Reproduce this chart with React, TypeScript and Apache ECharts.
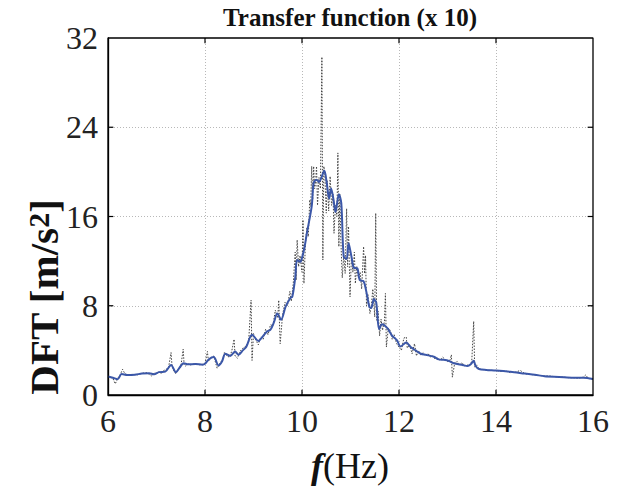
import React, { useEffect, useRef } from "react";
import * as echarts from "echarts";

const xTicks = [6, 8, 10, 12, 14, 16];
const yTicks = [0, 8, 16, 24, 32];

// Smoothed transfer function (blue)
const smoothFreq = [
  6.0, 6.1, 6.2, 6.28, 6.4, 6.55, 6.7, 6.85, 6.95, 7.05, 7.18, 7.3, 7.4, 7.5, 7.56, 7.65, 7.8, 7.95,
  8.0, 8.08, 8.18, 8.28, 8.35, 8.42, 8.52, 8.62, 8.69, 8.78, 8.85, 8.97, 9.1, 9.2, 9.28, 9.35, 9.42,
  9.49, 9.57, 9.66, 9.76, 9.8, 9.86, 9.9, 9.97, 10.0, 10.05, 10.1, 10.2, 10.24, 10.3, 10.35, 10.46,
  10.51, 10.56, 10.6, 10.65, 10.69, 10.76, 10.81, 10.86, 10.92, 10.96, 11.02, 11.07, 11.14, 11.19,
  11.27, 11.32, 11.39, 11.43, 11.48, 11.53, 11.59, 11.65, 11.76, 11.86, 11.96, 12.03, 12.15, 12.24,
  12.34, 12.45, 12.55, 12.72, 12.82, 12.92, 13.03, 13.13, 13.31, 13.41, 13.48, 13.54, 13.58, 13.65,
  13.8, 14.0, 14.3, 14.6, 14.8, 15.0, 15.3, 15.6, 15.8, 16.0,
];
const smoothVals = [
  1.65, 1.55, 1.42, 1.88, 1.8, 1.82, 1.92, 1.95, 1.85, 2.05, 2.1, 2.7, 2.05, 2.6, 2.85, 2.75, 2.78, 2.72,
  2.8, 3.2, 3.4, 2.65, 3.0, 3.7, 3.5, 3.9, 3.6, 4.0, 4.3, 5.4, 4.85, 5.3, 5.7, 5.85, 6.5,
  7.3, 6.75, 7.9, 8.7, 8.8, 10.5, 12.1, 11.95, 12.3, 13.2, 14.5, 16.9, 19.0, 19.3, 19.1, 20.1,
  19.0, 17.6, 18.5, 17.5, 16.4, 18.0, 17.2, 12.4, 12.2, 13.6, 12.4, 11.4, 11.35, 10.3,
  10.2, 9.4, 7.9, 7.8, 8.6, 8.3, 5.9, 6.35, 6.0, 5.3, 4.9, 4.35, 4.7, 4.3,
  4.0, 3.7, 3.6, 3.43, 3.19, 3.15, 3.05, 2.84, 2.69, 2.6, 2.75, 3.07, 2.6, 2.33,
  2.25, 2.2, 2.08, 1.92, 1.82, 1.68, 1.62, 1.55, 1.55, 1.43,
];

// Raw DFT ratio (dotted)
const rawFreq = [
  6.0, 6.05, 6.1, 6.15, 6.2, 6.25, 6.3, 6.35, 6.4, 6.5, 6.6, 6.7, 6.8, 6.9, 6.95, 7.0, 7.05, 7.1,
  7.15, 7.2, 7.25, 7.3, 7.32, 7.35, 7.4, 7.45, 7.5, 7.55, 7.57, 7.6, 7.65, 7.7, 7.8, 7.9, 8.0, 8.05,
  8.07, 8.12, 8.18, 8.25, 8.3, 8.35, 8.4, 8.45, 8.5, 8.55, 8.6, 8.62, 8.67, 8.72, 8.78, 8.85, 8.9,
  8.95, 8.97, 9.0, 9.05, 9.1, 9.15, 9.2, 9.25, 9.3, 9.35, 9.4, 9.45, 9.5, 9.52, 9.55, 9.6, 9.65, 9.7,
  9.75, 9.78, 9.82, 9.86, 9.88, 9.9, 9.93, 9.96, 10.0, 10.02, 10.04, 10.07, 10.1, 10.13, 10.16,
  10.18, 10.2, 10.22, 10.24, 10.26, 10.28, 10.3, 10.32, 10.35, 10.38, 10.41, 10.43, 10.45, 10.47,
  10.5, 10.52, 10.55, 10.58, 10.61, 10.64, 10.66, 10.69, 10.72, 10.74, 10.76, 10.78, 10.8, 10.83,
  10.86, 10.89, 10.92, 10.94, 10.96, 10.99, 11.02, 11.05, 11.08, 11.1, 11.13, 11.16, 11.2, 11.23,
  11.27, 11.29, 11.31, 11.33, 11.36, 11.4, 11.43, 11.46, 11.5, 11.52, 11.54, 11.57, 11.6, 11.63,
  11.66, 11.7, 11.72, 11.74, 11.78, 11.82, 11.86, 11.9, 11.95, 12.0, 12.05, 12.1, 12.15, 12.17,
  12.22, 12.27, 12.32, 12.36, 12.4, 12.45, 12.5, 12.55, 12.6, 12.65, 12.7, 12.75, 12.8, 12.85,
  12.9, 12.95, 13.0, 13.05, 13.08, 13.1, 13.15, 13.2, 13.25, 13.3, 13.35, 13.4, 13.45, 13.5, 13.54,
  13.56, 13.6, 13.65, 13.7, 13.8, 13.9, 14.0, 14.1, 14.2, 14.3, 14.4, 14.5, 14.6, 14.7, 14.8,
  14.9, 15.0, 15.1, 15.2, 15.3, 15.4, 15.5, 15.6, 15.7, 15.8, 15.85, 15.9, 16.0,
];
const rawVals = [
  1.7, 1.6, 1.5, 1.0, 1.5, 1.8, 2.3, 1.9, 1.8, 1.85, 1.8, 1.95, 2.0, 1.7, 2.0, 1.9, 2.1, 1.9,
  2.2, 2.3, 2.5, 3.8, 2.6, 2.2, 1.9, 2.3, 2.5, 4.1, 2.7, 2.6, 2.8, 2.7, 2.8, 2.7, 2.8, 3.9,
  3.0, 3.3, 3.5, 2.4, 2.8, 3.1, 3.8, 3.5, 3.4, 3.9, 5.0, 3.5, 3.3, 3.9, 4.2, 4.4, 4.8,
  8.5, 3.1, 5.5, 4.9, 4.5, 5.2, 5.0, 5.9, 5.4, 6.3, 6.2, 7.6, 6.9, 8.5, 4.6, 7.2, 8.3, 8.0,
  9.3, 8.4, 10.0, 12.8, 10.3, 13.9, 11.5, 12.5, 11.0, 15.7, 10.0, 13.5, 15.0, 14.2, 17.5,
  16.9, 20.5, 17.5, 20.5, 18.5, 19.0, 20.5, 17.0, 19.5, 18.5, 30.3, 12.1, 20.5, 19.9,
  16.3, 19.2, 16.5, 19.6, 17.0, 18.0, 14.5, 17.0, 16.0, 21.7, 13.3, 18.0, 14.0, 10.5,
  12.5, 10.9, 16.7, 11.5, 15.1, 8.8, 12.5, 11.0, 12.8, 10.0, 11.5, 10.5, 11.0, 9.5,
  13.3, 10.9, 12.5, 8.0, 9.0, 7.3, 8.0, 9.5, 7.0, 16.3, 6.7, 7.5, 5.3, 6.8,
  5.8, 6.6, 9.1, 4.3, 6.0, 5.8, 5.0, 5.4, 4.6, 4.3, 4.0, 5.1, 5.2, 4.2,
  4.5, 3.7, 4.6, 3.5, 4.0, 3.6, 3.8, 3.5, 3.7, 3.4, 3.5, 3.2, 3.3, 3.1,
  3.4, 3.2, 3.0, 3.1, 3.6, 1.6, 2.9, 3.0, 2.7, 2.9, 2.6, 2.7, 2.6, 3.0, 6.6,
  2.5, 2.7, 2.3, 2.3, 2.25, 2.2, 2.2, 2.1, 2.15, 2.0, 2.05, 2.2, 1.9, 1.85, 1.8,
  1.75, 1.7, 1.7, 1.65, 1.6, 1.6, 1.55, 1.55, 1.5, 1.6, 1.8, 1.5, 1.4,
];

const SERIF = "Liberation Serif";

export default function App() {
  const ref = useRef<HTMLDivElement>(null);
  useEffect(() => {
    if (!ref.current) return;
    const chart = echarts.init(ref.current, null, { renderer: "svg" });
    const smooth = smoothFreq.map((f, i) => [f, smoothVals[i]]);
    const raw = rawFreq.map((f, i) => [f, rawVals[i]]);
    const gridLine = {
      show: true, showMinLine: false, showMaxLine: false,
      lineStyle: { color: "#b8b8b8", type: [1, 2], width: 1 },
    };
    const xMin = xTicks[0], xMax = xTicks[xTicks.length - 1];
    const yMin = yTicks[0], yMax = yTicks[yTicks.length - 1];
    const xTickLen = (xMax - xMin) * 0.011;
    const yTickLen = (yMax - yMin) * 0.015;

    const blackLine = (data: number[][], width: number) => ({
      type: "line", data, showSymbol: false, silent: true, clip: false, z: 10,
      lineStyle: { color: "#000000", width, type: "solid" }, emphasis: { disabled: true },
    });
    const frameSeries = [
      blackLine([[xMin, yMin], [xMax, yMin], [xMax, yMax], [xMin, yMax], [xMin, yMin]], 1.3),
    ];
    const tickSeries: any[] = [];
    xTicks.slice(1, -1).forEach((v) => {
      tickSeries.push(blackLine([[v, yMin], [v, yMin + yTickLen]], 1.2));
      tickSeries.push(blackLine([[v, yMax], [v, yMax - yTickLen]], 1.2));
    });
    yTicks.slice(1, -1).forEach((v) => {
      tickSeries.push(blackLine([[xMin, v], [xMin + xTickLen, v]], 1.2));
      tickSeries.push(blackLine([[xMax, v], [xMax - xTickLen, v]], 1.2));
    });

    chart.setOption({
      animation: false,
      backgroundColor: "#ffffff",
      grid: { left: 108, right: 33, top: 38, bottom: 91 },
      xAxis: {
        type: "value", min: xMin, max: xMax, interval: 2,
        axisLine: { show: true, onZero: false, lineStyle: { color: "#000", width: 1.3 } },
        axisTick: { show: false }, splitLine: gridLine,
        axisLabel: { fontFamily: SERIF, fontSize: 32, color: "#222", margin: 10 },
      },
      yAxis: {
        type: "value", min: yMin, max: yMax, interval: 8,
        axisLine: { show: true, onZero: false, lineStyle: { color: "#000", width: 1.3 } },
        axisTick: { show: false }, splitLine: gridLine,
        axisLabel: { fontFamily: SERIF, fontSize: 32, color: "#222", margin: 10 },
      },
      graphic: [
        {
          type: "text", x: 350, y: 17,
          style: {
            text: "Transfer function (x 10)", fontFamily: SERIF, fontWeight: "bold", fontSize: 25,
            fill: "#111", align: "center", verticalAlign: "middle",
          },
        },
        {
          type: "text", x: 44, y: 297, rotation: Math.PI / 2,
          style: {
            text: "{b|DFT [m/s}{sup|2}{b|]}",
            align: "center", verticalAlign: "middle",
            rich: {
              b: { fontFamily: SERIF, fontWeight: "bold", fontSize: 41, fill: "#111", verticalAlign: "bottom" },
              sup: { fontFamily: SERIF, fontWeight: "bold", fontSize: 30, fill: "#111", verticalAlign: "top" },
            },
          },
        },
        {
          type: "text", x: 350, y: 466,
          style: {
            text: "{bi|f}{r|(Hz)}",
            align: "center", verticalAlign: "middle",
            rich: {
              bi: { fontFamily: SERIF, fontWeight: "bold", fontStyle: "italic", fontSize: 36, fill: "#111" },
              r: { fontFamily: SERIF, fontSize: 36, fill: "#111" },
            },
          },
        },
      ],
      series: [
        {
          type: "line", data: raw, showSymbol: false,
          lineStyle: { color: "#444", width: 1, type: [1.5, 1.5] }, z: 2,
        },
        {
          type: "line", data: smooth, showSymbol: false, smooth: 0.3,
          lineStyle: { color: "#3b57a8", width: 2 }, z: 3,
        },
        ...frameSeries,
        ...tickSeries,
      ],
    });
    return () => chart.dispose();
  }, []);
  return <div ref={ref} style={{ width: 626, height: 486, position: "absolute", left: 0, top: 0 }} />;
}
